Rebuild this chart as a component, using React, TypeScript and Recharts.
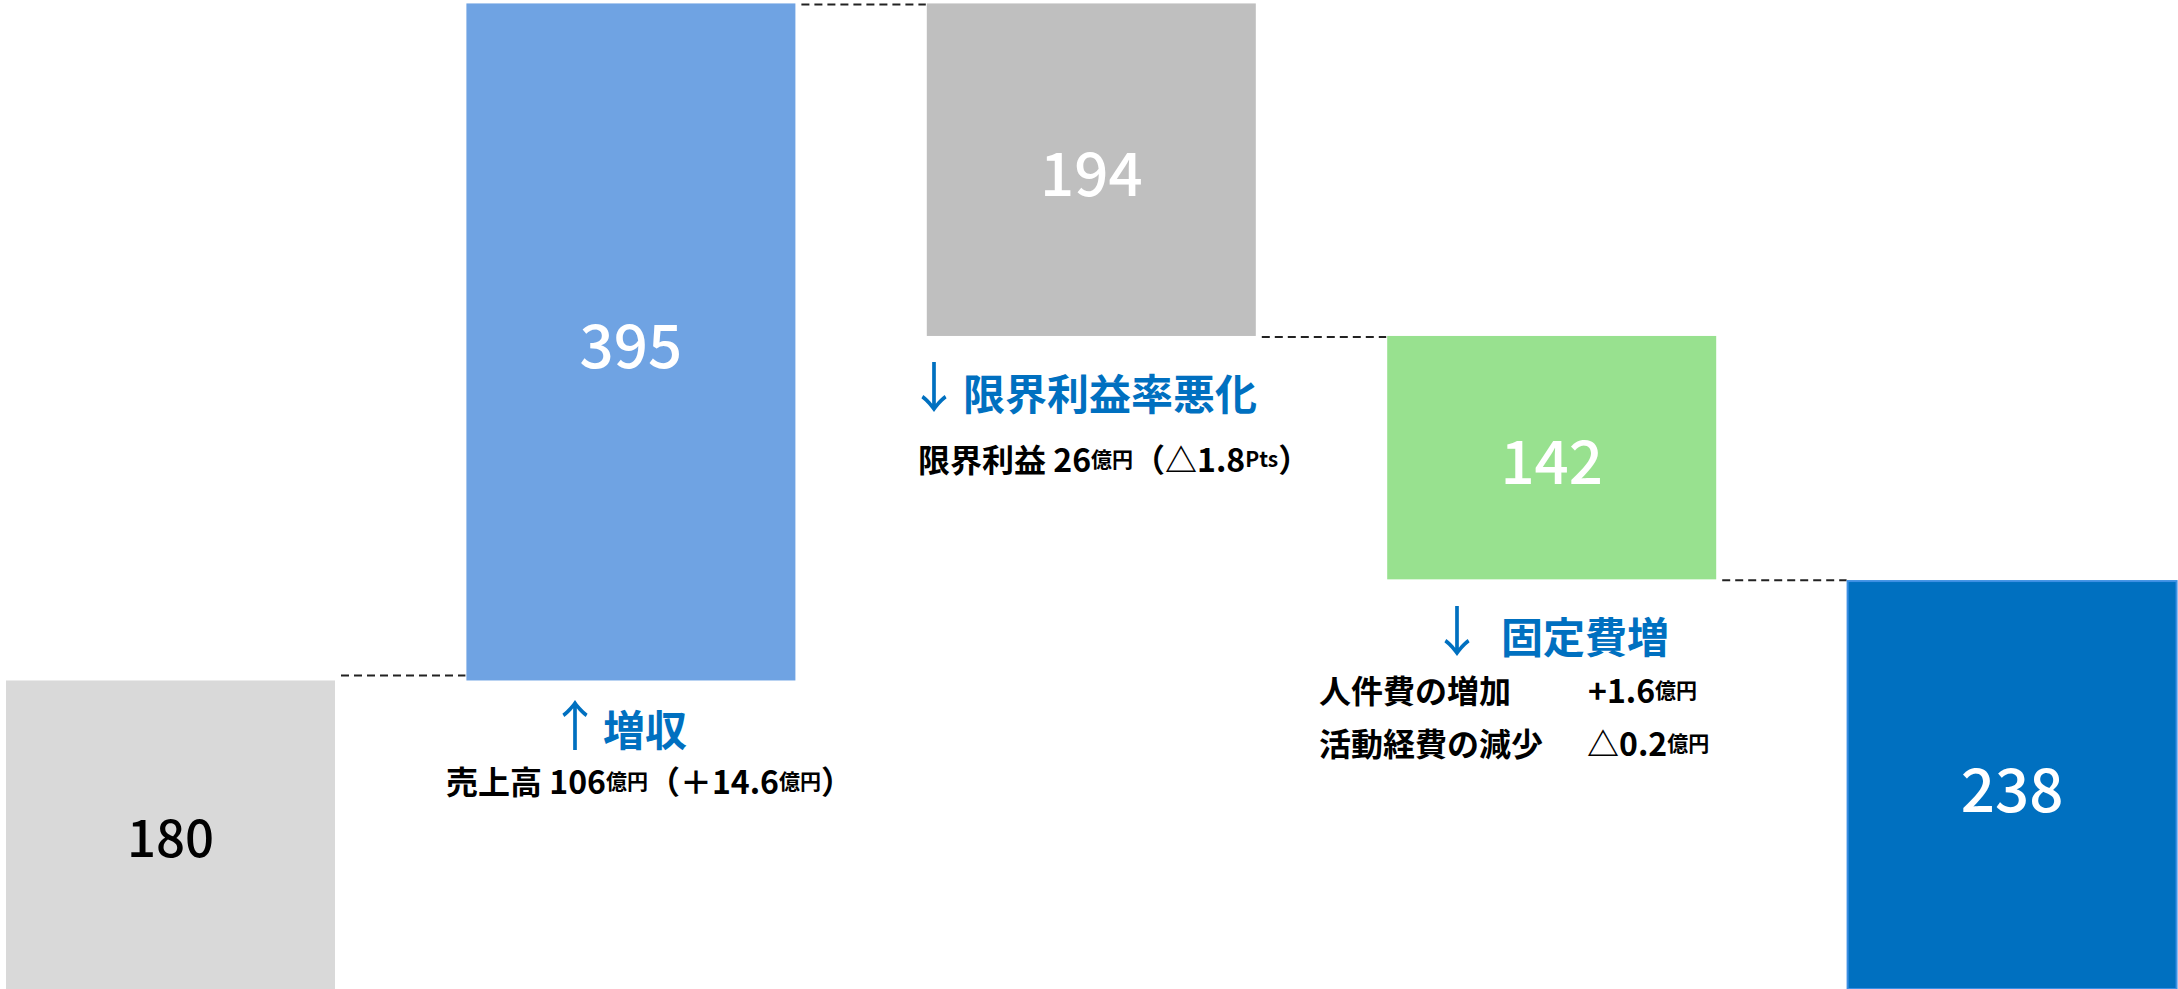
import React from 'react';
import { BarChart, Bar, XAxis, YAxis, LabelList } from 'recharts';

// ---- data ----
const categories = ['前期', '増収', '限界利益率悪化', '固定費増', '当期'];
const values = [180, 395, 194, 142, 238];
const kinds = ['total', 'up', 'down', 'down', 'total'];
const fills = ['#d9d9d9', '#6fa3e3', '#bfbfbf', '#98e18f', '#0070c0'];
const labelColors = ['#000000', '#ffffff', '#ffffff', '#ffffff', '#ffffff'];

const CHART_W = 2302;
const CHART_H = 989;
const SHIFT_X = -60;
const FONT = '"Noto Sans CJK JP", "Noto Sans", sans-serif';

// build waterfall table
let running = 0;
const data = categories.map((name, i) => {
  const v = values[i];
  let base = 0;
  if (kinds[i] === 'total') {
    base = 0;
    running = v;
  } else if (kinds[i] === 'up') {
    base = running;
    running = running + v;
  } else {
    running = running - v;
    base = running;
  }
  return { name, base, value: v, kind: kinds[i] };
});

const catW = CHART_W / categories.length;

const WaterfallBar = (props: any) => {
  const { x, y, width, height, index, payload } = props;
  const last = index === categories.length - 1;
  const lvl = payload.kind === 'down' ? y + height : y;
  return (
    <g>
      <rect
        x={x}
        y={y}
        width={width}
        height={height}
        fill={fills[index]}
        stroke={last ? '#3c8fe4' : 'none'}
        strokeWidth={last ? 2 : 0}
      />
      {!last && (
        <line
          x1={x + width + 6}
          x2={x + catW - 1}
          y1={index === 0 ? lvl - 5 : lvl + 1}
          y2={index === 0 ? lvl - 5 : lvl + 1}
          stroke="#222"
          strokeWidth={2}
          strokeDasharray="8 5"
        />
      )}
    </g>
  );
};

const ValueLabel = (props: any) => {
  const { x, y, width, height, value, index } = props;
  return (
    <text
      x={x + width / 2}
      y={y + height / 2}
      textAnchor="middle"
      dominantBaseline="central"
      fill={labelColors[index]}
      fontSize={index === 0 ? 51 : 60}
      fontWeight={500}
      fontFamily={FONT}
    >
      {value}
    </text>
  );
};

const BLUE = '#0070c0';

const Small = ({ children }: any) => (
  <tspan fontSize={21}>{children}</tspan>
);

export default function App() {
  return (
    <div
      style={{
        position: 'absolute',
        left: 0,
        top: 0,
        width: 2178,
        height: 989,
        overflow: 'hidden',
        background: '#ffffff',
      }}
    >
      <div style={{ position: 'absolute', left: SHIFT_X, top: 0 }}>
        <BarChart
          width={CHART_W}
          height={CHART_H}
          data={data}
          margin={{ top: 0, right: 0, bottom: 0, left: 0 }}
          barSize={329}
        >
          <XAxis dataKey="name" hide />
          <YAxis hide domain={[0, 577]} />
          <Bar dataKey="base" stackId="w" fill="transparent" isAnimationActive={false} />
          <Bar dataKey="value" stackId="w" isAnimationActive={false} shape={WaterfallBar}>
            <LabelList dataKey="value" content={ValueLabel} />
          </Bar>
        </BarChart>
      </div>
      <svg
        width={2178}
        height={989}
        style={{ position: 'absolute', left: 0, top: 0, pointerEvents: 'none' }}
        fontFamily={FONT}
      >
        {/* 増収 */}
        <text x={575} y={722} textAnchor="middle" dominantBaseline="central" fill={BLUE} fontSize={54} fontWeight={400}>↑</text>
        <text x={603} y={727} dominantBaseline="central" fill={BLUE} fontSize={42} fontWeight={700}>増収</text>
        <text x={446} y={780} dominantBaseline="central" fill="#000" fontSize={32} fontWeight={700}>
          売上高 106<Small>億円</Small>（＋14.6<Small>億円</Small>）
        </text>

        {/* 限界利益率悪化 */}
        <text x={934} y={384} textAnchor="middle" dominantBaseline="central" fill={BLUE} fontSize={54} fontWeight={400}>↓</text>
        <text x={963} y={391} dominantBaseline="central" fill={BLUE} fontSize={42} fontWeight={700}>限界利益率悪化</text>
        <text x={918} y={458} dominantBaseline="central" fill="#000" fontSize={32} fontWeight={700}>
          限界利益 26<Small>億円</Small>（△1.8<Small>Pts</Small>）
        </text>

        {/* 固定費増 */}
        <text x={1457} y={628} textAnchor="middle" dominantBaseline="central" fill={BLUE} fontSize={54} fontWeight={400}>↓</text>
        <text x={1501} y={634} dominantBaseline="central" fill={BLUE} fontSize={42} fontWeight={700}>固定費増</text>
        <text x={1319} y={689} dominantBaseline="central" fill="#000" fontSize={32} fontWeight={700}>人件費の増加</text>
        <text x={1588} y={689} dominantBaseline="central" fill="#000" fontSize={32} fontWeight={700}>
          +1.6<Small>億円</Small>
        </text>
        <text x={1319} y={742} dominantBaseline="central" fill="#000" fontSize={32} fontWeight={700}>活動経費の減少</text>
        <text x={1587} y={742} dominantBaseline="central" fill="#000" fontSize={32} fontWeight={700}>
          △0.2<Small>億円</Small>
        </text>
      </svg>
    </div>
  );
}
